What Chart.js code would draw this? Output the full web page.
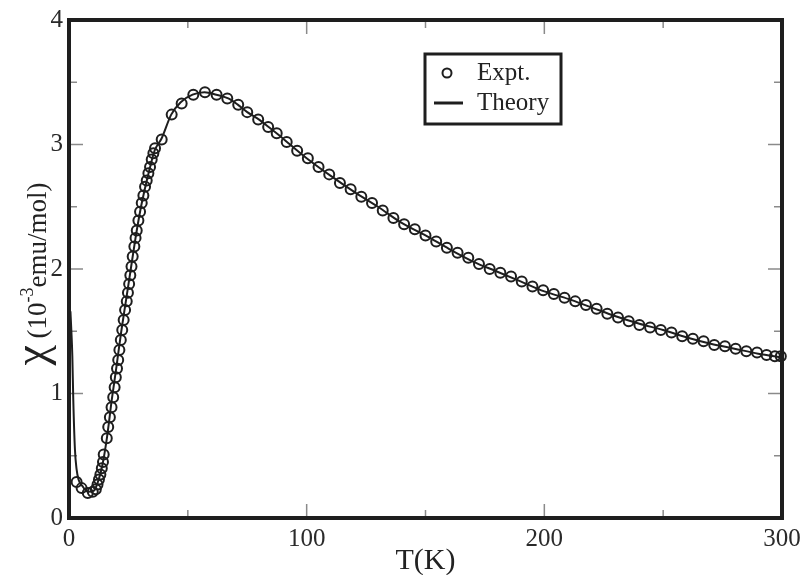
<!DOCTYPE html>
<html>
<head>
<meta charset="utf-8">
<title>Susceptibility</title>
<script src="https://cdn.jsdelivr.net/npm/chart.js@4.4.0/dist/chart.umd.min.js"></script>
<style>
  html, body { margin: 0; padding: 0; background: #fff; }
  #wrap { width: 803px; height: 575px; }
</style>
</head>
<body>
<div id="wrap"><canvas id="chiChart"></canvas></div>
<script>
// Expt. points, T (K) and chi (10^-3 emu/mol)
const exptT = [3.2, 5.3, 7.9, 10.0, 11.3, 12.0, 12.6, 13.2, 13.8, 14.3, 14.6,
  15.9, 16.5, 17.2, 17.9, 18.6, 19.2, 19.7, 20.2, 20.7, 21.2, 21.8, 22.4, 23.0, 23.6,
  24.3, 24.8, 25.3, 25.8, 26.3, 26.8, 27.5, 28.0, 28.5, 29.2, 29.9, 30.6, 31.3, 32.0,
  32.7, 33.4, 34.1, 34.8, 35.5, 36.2, 39.0, 43.2, 47.4, 52.3, 57.2, 62.1, 66.6, 71.2,
  75.0, 79.6, 83.8, 87.4, 91.6, 96.0, 100.5, 105.0, 109.5, 114.0, 118.5, 123.0, 127.5,
  132.0, 136.5, 141.0, 145.5, 150.0, 154.5, 159.0, 163.5, 168.0, 172.5, 177.0, 181.5,
  186.0, 190.5, 195.0, 199.5, 204.0, 208.5, 213.0, 217.5, 222.0, 226.5, 231.0, 235.5,
  240.0, 244.5, 249.0, 253.5, 258.0, 262.5, 267.0, 271.5, 276.0, 280.5, 285.0, 289.5,
  293.5, 297.0, 299.5];
const exptChi = [0.29, 0.24, 0.20, 0.21, 0.23, 0.27, 0.31, 0.35, 0.40, 0.45, 0.51,
  0.64, 0.73, 0.81, 0.89, 0.97, 1.05, 1.13, 1.20, 1.27, 1.35, 1.43, 1.51, 1.59, 1.67,
  1.74, 1.81, 1.88, 1.95, 2.02, 2.10, 2.18, 2.25, 2.31, 2.39, 2.46, 2.53, 2.59, 2.66,
  2.71, 2.77, 2.82, 2.88, 2.93, 2.97, 3.04, 3.24, 3.33, 3.40, 3.42, 3.40, 3.37, 3.32,
  3.26, 3.20, 3.14, 3.09, 3.02, 2.95, 2.89, 2.82, 2.76, 2.69, 2.64, 2.58, 2.53,
  2.47, 2.41, 2.36, 2.32, 2.27, 2.22, 2.17, 2.13, 2.09, 2.04, 2.00, 1.97,
  1.94, 1.90, 1.86, 1.83, 1.80, 1.77, 1.74, 1.71, 1.68, 1.64, 1.61, 1.58,
  1.55, 1.53, 1.51, 1.49, 1.46, 1.44, 1.42, 1.39, 1.38, 1.36, 1.34, 1.33,
  1.31, 1.30, 1.30];

// Theory curve
const theoryT = [0.6, 1.0, 1.4, 1.8, 2.5, 3.2, 4.0, 5.5, 8.0, 10.5, 12.0, 14.0, 16.0,
  18.0, 20.0, 22.0, 24.0, 26.0, 28.0, 30.0, 32.0, 34.0, 36.0, 39.0, 43.0, 47.0, 52.0,
  57.0, 62.0, 67.0, 71.0, 75.0, 80.0, 84.0, 88.0, 93.0, 100, 110, 120, 130, 140, 150,
  160, 170, 180, 190, 200, 210, 220, 230, 240, 250, 260, 270, 280, 290, 300];
const theoryChi = [1.66, 1.50, 1.30, 0.95, 0.55, 0.39, 0.31, 0.26, 0.21, 0.22, 0.28,
  0.42, 0.65, 0.95, 1.22, 1.50, 1.75, 2.00, 2.25, 2.47, 2.65, 2.81, 2.95, 3.05, 3.24,
  3.34, 3.40, 3.42, 3.40, 3.37, 3.32, 3.26, 3.20, 3.14, 3.08, 3.00, 2.89, 2.75, 2.62,
  2.50, 2.37, 2.27, 2.16, 2.06, 1.98, 1.90, 1.82, 1.76, 1.69, 1.62, 1.56, 1.51, 1.45,
  1.40, 1.36, 1.32, 1.29];

const xMinorTicks = [50, 150, 250];
const yMinorTicks = [0.5, 1.5, 2.5, 3.5];
const seriesLabels = ['Expt.', 'Theory'];

const SERIF = "'Liberation Serif', 'DejaVu Serif', serif";
const INK = '#1e1e1e';

// inward ticks on all four sides + heavy frame
const framePlugin = {
    id: 'frame',
    beforeDatasetsDraw(chart) {
        const { ctx, chartArea: a, scales } = chart;
        ctx.save();
        ctx.strokeStyle = '#8a8a8a';
        ctx.lineWidth = 1.5;
        const tick = (x1, y1, x2, y2) => { ctx.beginPath(); ctx.moveTo(x1, y1); ctx.lineTo(x2, y2); ctx.stroke(); };
        scales.x.ticks.forEach(t => {
            const px = scales.x.getPixelForValue(t.value);
            tick(px, a.bottom, px, a.bottom - 14);
            tick(px, a.top, px, a.top + 14);
        });
        xMinorTicks.forEach(v => {
            const px = scales.x.getPixelForValue(v);
            tick(px, a.bottom, px, a.bottom - 8);
            tick(px, a.top, px, a.top + 8);
        });
        scales.y.ticks.forEach(t => {
            const py = scales.y.getPixelForValue(t.value);
            tick(a.left, py, a.left + 14, py);
            tick(a.right, py, a.right - 14, py);
        });
        yMinorTicks.forEach(v => {
            const py = scales.y.getPixelForValue(v);
            tick(a.left, py, a.left + 8, py);
            tick(a.right, py, a.right - 8, py);
        });
        ctx.restore();
    },
    afterDatasetsDraw(chart) {
        const { ctx, chartArea: a } = chart;
        ctx.save();
        ctx.strokeStyle = INK;
        ctx.lineWidth = 4;
        ctx.strokeRect(a.left, a.top, a.right - a.left, a.bottom - a.top);
        ctx.restore();
    }
};

// axis titles and the boxed legend
const labelsPlugin = {
    id: 'labels',
    afterDraw(chart) {
        const { ctx, chartArea: a } = chart;
        ctx.save();
        ctx.fillStyle = '#222';

        // x title
        ctx.font = '30px ' + SERIF;
        ctx.textAlign = 'center';
        ctx.textBaseline = 'middle';
        ctx.fillText('T(K)', (a.left + a.right) / 2, 561);

        // y title, rotated, mixed sizes
        const parts = [
            { t: '\u03C7', f: '46px ' + SERIF, dy: 0 },
            { t: ' (10', f: '27px ' + SERIF, dy: 0 },
            { t: '-3', f: '18px ' + SERIF, dy: -13 },
            { t: 'emu/mol)', f: '27px ' + SERIF, dy: 0 }
        ];
        let total = 0;
        parts.forEach(p => { ctx.font = p.f; p.w = ctx.measureText(p.t).width; total += p.w; });
        ctx.translate(46, 274);
        ctx.rotate(-Math.PI / 2);
        ctx.textAlign = 'left';
        ctx.textBaseline = 'alphabetic';
        let x = -total / 2;
        parts.forEach(p => { ctx.font = p.f; ctx.fillText(p.t, x, p.dy); x += p.w; });
        ctx.setTransform(1, 0, 0, 1, 0, 0);

        // legend box
        ctx.strokeStyle = INK;
        ctx.lineWidth = 3;
        ctx.strokeRect(425, 54, 136, 70);
        ctx.lineWidth = 2;
        ctx.beginPath();
        ctx.arc(447, 73, 4.5, 0, Math.PI * 2);
        ctx.stroke();
        ctx.lineWidth = 3;
        ctx.beginPath();
        ctx.moveTo(434, 103);
        ctx.lineTo(463, 103);
        ctx.stroke();
        ctx.font = '25px ' + SERIF;
        ctx.textAlign = 'left';
        ctx.textBaseline = 'middle';
        ctx.fillText(seriesLabels[0], 477, 73);
        ctx.fillText(seriesLabels[1], 477, 103);
        ctx.restore();
    }
};

const ctx = document.getElementById('chiChart').getContext('2d');
new Chart(ctx, {
    type: 'scatter',
    data: {
        datasets: [{
            label: seriesLabels[0],
            data: exptT.map((t, i) => ({ x: t, y: exptChi[i] })),
            pointStyle: 'circle',
            pointRadius: 5,
            pointBorderWidth: 2,
            pointBorderColor: INK,
            pointBackgroundColor: 'rgba(0,0,0,0)',
            showLine: false,
            clip: false,
            order: 1
        }, {
            label: seriesLabels[1],
            data: theoryT.map((t, i) => ({ x: t, y: theoryChi[i] })),
            showLine: true,
            borderColor: INK,
            borderWidth: 2,
            pointRadius: 0,
            cubicInterpolationMode: 'monotone',
            clip: false,
            order: 2
        }]
    },
    options: {
        responsive: true,
        maintainAspectRatio: false,
        animation: false,
        layout: { padding: { left: 0, right: 21, top: 20, bottom: 0 } },
        plugins: {
            legend: { display: false },
            tooltip: { enabled: false }
        },
        scales: {
            x: {
                type: 'linear',
                min: 0,
                max: 300,
                ticks: { stepSize: 100, color: '#2a2a2a', padding: 6, font: { family: SERIF, size: 25 } },
                grid: { display: false, drawTicks: false },
                border: { display: false },
                afterFit(scale) {
                    scale.height = 57;
                    scale.paddingLeft = 0;
                    scale.paddingRight = 0;
                }
            },
            y: {
                min: 0,
                max: 4,
                ticks: { stepSize: 1, color: '#2a2a2a', padding: 6, font: { family: SERIF, size: 25 } },
                grid: { display: false, drawTicks: false },
                border: { display: false },
                afterFit(scale) {
                    scale.width = 69;
                    scale.paddingTop = 0;
                    scale.paddingBottom = 0;
                }
            }
        }
    },
    plugins: [framePlugin, labelsPlugin]
});
</script>
</body>
</html>
